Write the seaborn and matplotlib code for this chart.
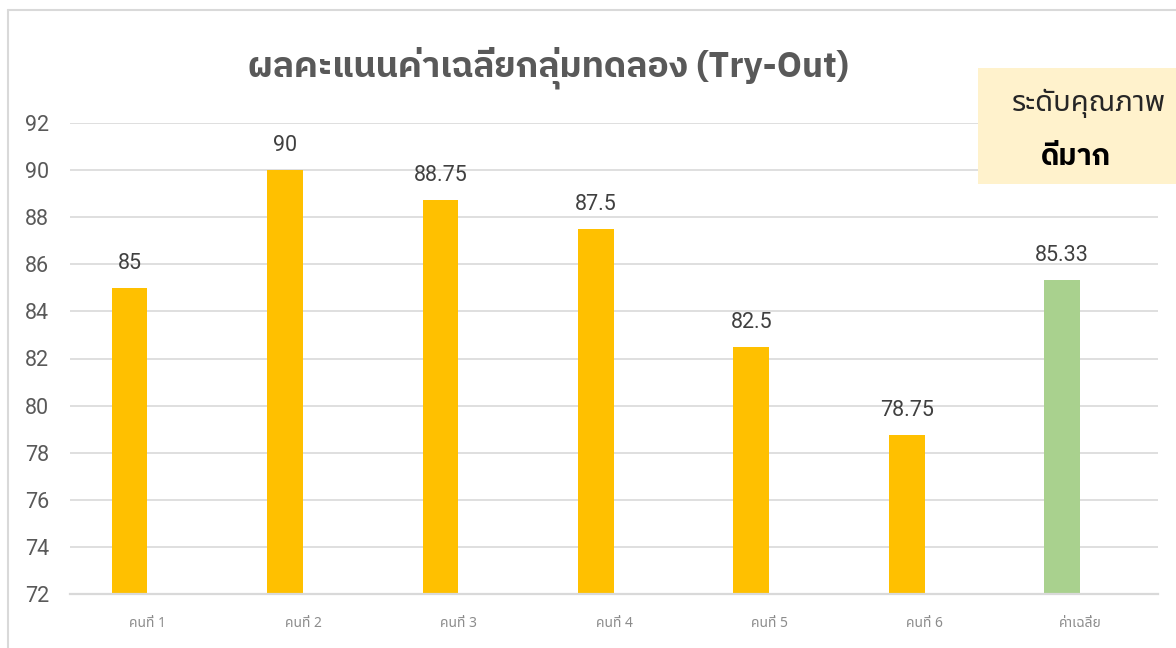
import matplotlib
matplotlib.use("Agg")
import matplotlib.pyplot as plt
from matplotlib.patches import Rectangle
from matplotlib.lines import Line2D
import seaborn as sns
import pandas as pd

# ---- data ----
categories = ["คนที่ 1", "คนที่ 2", "คนที่ 3", "คนที่ 4", "คนที่ 5", "คนที่ 6", "ค่าเฉลี่ย"]
scores = [85, 90, 88.75, 87.5, 82.5, 78.75, 85.33]
bar_labels = ["85", "90", "88.75", "87.5", "82.5", "78.75", "85.33"]
bar_colors = ["#FFC000", "#FFC000", "#FFC000", "#FFC000", "#FFC000", "#FFC000", "#A9D18E"]
y_ticks = [72, 74, 76, 78, 80, 82, 84, 86, 88, 90, 92]
title = "ผลคะแนนค่าเฉลี่ยกลุ่มทดลอง (Try-Out)"
box_title = "ระดับคุณภาพ"
box_value = "ดีมาก"

sns.set_theme(style="white")
THAI = ["Noto Sans Thai", "Roboto", "DejaVu Sans"]
THAI_B = ["IBM Plex Sans Thai", "Noto Sans Thai", "Roboto", "DejaVu Sans"]
NUM = ["Roboto", "DejaVu Sans"]
plt.rcParams["font.family"] = THAI

df = pd.DataFrame({"cat": categories, "score": scores})

fig = plt.figure(figsize=(11.76, 6.48), dpi=100)
ax = fig.add_axes([70 / 1176, 54 / 648, 1088 / 1176, 471 / 648])

sns.barplot(data=df, x="cat", y="score", hue="cat", palette=bar_colors,
            order=categories, hue_order=categories, legend=False,
            width=0.23, ax=ax, saturation=1, edgecolor="none")

# Excel clustered layout: bars sit left of the category centre
for p in ax.patches:
    p.set_x(p.get_x() - 0.117)

ax.set_ylim(72, 92)
ax.set_xlim(-0.5, len(categories) - 0.5)
ax.set_yticks(y_ticks)
ax.set_yticklabels([str(t) for t in y_ticks], family=NUM, fontsize=15.5, color="#595959")
ax.set_xticks(range(len(categories)))
ax.set_xticklabels(categories, family=THAI, fontsize=10, color="#8c8c8c")
ax.tick_params(axis="y", length=0, pad=15)
ax.tick_params(axis="x", length=0, pad=16)
ax.set_xlabel("")
ax.set_ylabel("")
ax.yaxis.grid(True, color="#d9d9d9", linewidth=1.2)
ax.set_axisbelow(True)
for s in ["left", "right", "top"]:
    ax.spines[s].set_visible(False)
ax.spines["bottom"].set_color("#d9d9d9")
ax.spines["bottom"].set_linewidth(1.6)

for p, lab in zip(ax.patches, bar_labels):
    ax.annotate(lab, (p.get_x() + p.get_width() / 2, p.get_height()),
                xytext=(0, 9.8), textcoords="offset points", ha="center", va="bottom",
                family=NUM, fontsize=15.5, color="#404040")

fig.text(548 / 1176, 1 - 68 / 648, title, ha="center", va="center",
         fontsize=25.5, fontweight="bold", color="#595959", family=THAI_B)

# chart-area border (left and top edges visible)
fig.add_artist(Line2D([8 / 1176, 8 / 1176], [0, 1 - 10 / 648], color="#d9d9d9", lw=1.5,
                      transform=fig.transFigure))
fig.add_artist(Line2D([8 / 1176, 1], [1 - 10 / 648, 1 - 10 / 648], color="#d9d9d9", lw=1.5,
                      transform=fig.transFigure))

# quality box
fig.add_artist(Rectangle((978 / 1176, 1 - 184 / 648), 200 / 1176, 116 / 648,
                         transform=fig.transFigure, facecolor="#FFF2CC", edgecolor="none", zorder=5))
fig.text(1089 / 1176, 1 - 103 / 648, box_title, ha="center", va="center",
         fontsize=21, color="#262626", family=THAI, zorder=6)
fig.text(1076 / 1176, 1 - 157 / 648, box_value, ha="center", va="center",
         fontsize=21, fontweight="bold", color="#000000", family=THAI_B, zorder=6)

fig.savefig("out.png", dpi=100)
